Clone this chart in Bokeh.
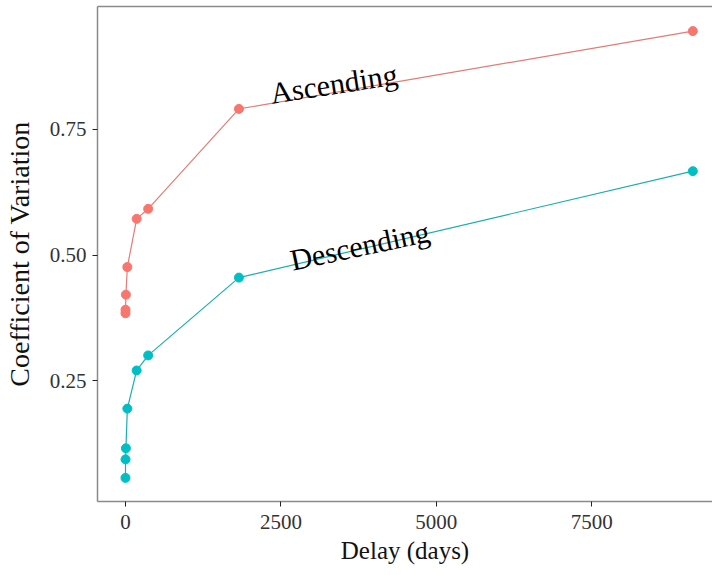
from bokeh.plotting import figure
from bokeh.models import Range1d, LinearAxis, FixedTicker, ColumnDataSource, CustomJSTickFormatter
from bokeh.core.properties import value
from bokeh.embed import file_html
from bokeh.resources import INLINE

# Delay in days and coefficient of variation for each ordering condition
delay_days = [0, 1, 7, 30, 180, 365, 1825, 9125]
ascending_cv = [0.384, 0.391, 0.421, 0.476, 0.572, 0.592, 0.791, 0.946]
descending_cv = [0.056, 0.093, 0.115, 0.194, 0.270, 0.300, 0.455, 0.667]

x_ticks = [0, 2500, 5000, 7500]
y_ticks = [0.25, 0.50, 0.75]

series_names = ["Ascending", "Descending"]
series_colors = ["#F8766D", "#00BFC4"]
line_colors = ["#e07d76", "#1aaeb2"]

FONT = "Liberation Serif"
BORDER = "#8a8a8a"

p = figure(
    width=712, height=575,
    output_backend="svg", toolbar_location=None,
    x_range=Range1d(-450, 9442), y_range=Range1d(0.009, 0.995),
    x_axis_label="Delay (days)", y_axis_label="Coefficient of Variation",
)
p.min_border_left = 97
p.min_border_right = 0
p.min_border_top = 6
p.min_border_bottom = 74
p.outline_line_color = None
p.background_fill_color = "white"
p.border_fill_color = "white"
p.grid.visible = False

for ax, ticks in ((p.xaxis[0], x_ticks), (p.yaxis[0], y_ticks)):
    ax.ticker = FixedTicker(ticks=ticks)
    ax.axis_line_color = BORDER
    ax.axis_line_width = 1.5
    ax.major_tick_line_color = "#222222"
    ax.major_tick_in = 0
    ax.major_tick_out = 5
    ax.minor_tick_line_color = None
    ax.major_label_text_font = FONT
    ax.major_label_text_font_size = "21px"
    ax.major_label_text_color = "#333333"
    ax.axis_label_text_font = FONT
    ax.axis_label_text_font_style = "normal"
    ax.axis_label_text_color = "#111111"

p.xaxis[0].axis_label_text_font_size = "25px"
p.yaxis[0].axis_label_text_font_size = "28px"
p.yaxis[0].formatter = CustomJSTickFormatter(code="return tick.toFixed(2);")
p.yaxis[0].major_label_standoff = 6
p.yaxis[0].axis_label_standoff = 12
p.xaxis[0].major_label_standoff = 8
p.xaxis[0].axis_label_standoff = 5

# top border of the panel
top = LinearAxis(ticker=FixedTicker(ticks=[]), axis_line_color=BORDER, axis_line_width=1.5,
                 major_tick_line_color=None, minor_tick_line_color=None,
                 major_label_text_font_size="0px")
p.add_layout(top, "above")

for name, cv, color, lcolor in zip(series_names, [ascending_cv, descending_cv],
                                   series_colors, line_colors):
    src = ColumnDataSource(dict(x=delay_days, y=cv))
    p.line("x", "y", source=src, line_color=lcolor, line_width=1.2)
    p.scatter("x", "y", source=src, size=9, fill_color=color, line_color=color)

# in-panel series labels
label_src = ColumnDataSource(dict(
    x=[2330, 2654], y=[0.822, 0.489], text=series_names, angle=[8.7, 12.0],
))
p.text("x", "y", text="text", angle="angle", angle_units="deg", source=label_src,
       text_font=value(FONT), text_font_size="30px", text_color="black",
       text_align="left", text_baseline="alphabetic")

open("out.html", "w").write(file_html(p, INLINE))
